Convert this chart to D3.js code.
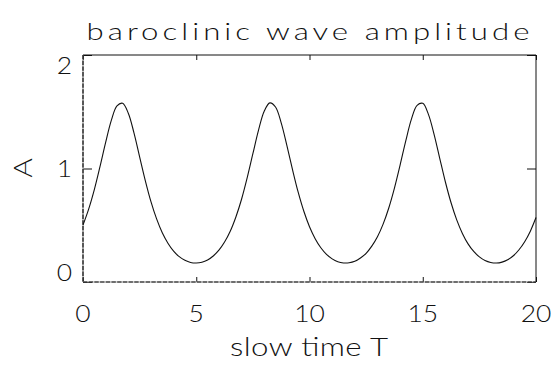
<!DOCTYPE html>
<html>
<head>
<meta charset="utf-8">
<script src="https://cdn.jsdelivr.net/npm/d3@7"></script>
<style>
  body { margin: 0; background: #fff; }
  text { font-family: Lato, "DejaVu Sans", sans-serif; font-weight: 300; fill: #111; }
</style>
</head>
<body>
<script>
// Slow time T (x samples)
const slowTime = [
  0, 0.25, 0.5, 0.75, 1, 1.25, 1.5, 1.75, 2, 2.25, 2.5, 2.75, 3, 3.25, 3.5, 3.75,
  4, 4.25, 4.5, 4.75, 5, 5.25, 5.5, 5.75, 6, 6.25, 6.5, 6.75, 7, 7.25, 7.5, 7.75,
  8, 8.25, 8.5, 8.75, 9, 9.25, 9.5, 9.75, 10, 10.25, 10.5, 10.75, 11, 11.25, 11.5, 11.75,
  12, 12.25, 12.5, 12.75, 13, 13.25, 13.5, 13.75, 14, 14.25, 14.5, 14.75, 15, 15.25, 15.5, 15.75,
  16, 16.25, 16.5, 16.75, 17, 17.25, 17.5, 17.75, 18, 18.25, 18.5, 18.75, 19, 19.25, 19.5, 19.75, 20
];

// Baroclinic wave amplitude A at each sample
const amplitude = [
  0.502, 0.642, 0.814, 1.016, 1.230, 1.424, 1.552, 1.575, 1.487, 1.314, 1.103, 0.894, 0.708, 0.556, 0.434, 0.342,
  0.272, 0.223, 0.191, 0.172, 0.167, 0.174, 0.194, 0.229, 0.280, 0.352, 0.447, 0.573, 0.729, 0.919, 1.130, 1.338,
  1.504, 1.578, 1.542, 1.402, 1.204, 0.990, 0.791, 0.623, 0.487, 0.382, 0.302, 0.244, 0.204, 0.179, 0.168, 0.169,
  0.182, 0.211, 0.253, 0.316, 0.399, 0.510, 0.652, 0.827, 1.030, 1.243, 1.435, 1.556, 1.574, 1.477, 1.301, 1.090,
  0.881, 0.698, 0.547, 0.428, 0.336, 0.269, 0.221, 0.189, 0.172, 0.167, 0.175, 0.196, 0.231, 0.284, 0.355, 0.448, 0.568
];

const xTicks = [0, 5, 10, 15, 20];
const yTicks = [0, 1, 2];
const chartTitle = "baroclinic wave amplitude";
const xTitle = "slow time T";
const yTitle = "A";

const W = 558, H = 365;
const svg = d3.select("body").append("svg").attr("width", W).attr("height", H);

const x = d3.scaleLinear().domain([0, 20]).range([83, 536]);
const y = d3.scaleLinear().domain([0, 2]).range([282, 55]);

// Tick marks point into the plot box on all four sides
function styleAxis(g) {
  g.selectAll(".tick line").attr("stroke", "#111").attr("stroke-width", 1);
  g.select(".domain").remove();
}
svg.append("g").attr("transform", `translate(0,${y(0)})`)
  .call(d3.axisBottom(x).tickValues(xTicks).tickSize(-5).tickFormat(""))
  .call(styleAxis);
svg.append("g").attr("transform", `translate(0,${y(2)})`)
  .call(d3.axisTop(x).tickValues(xTicks).tickSize(-5).tickFormat(""))
  .call(styleAxis);
svg.append("g").attr("transform", `translate(${x(0)},0)`)
  .call(d3.axisLeft(y).tickValues(yTicks).tickSize(-9).tickFormat(""))
  .call(styleAxis);
svg.append("g").attr("transform", `translate(${x(20)},0)`)
  .call(d3.axisRight(y).tickValues(yTicks).tickSize(-9).tickFormat(""))
  .call(styleAxis);

// Plot box: top/right solid, left/bottom drawn with a broken stroke
const x0 = x(0), x1 = x(20), y0 = y(0), y1 = y(2);
svg.append("line").attr("x1", x0).attr("x2", x1).attr("y1", y1).attr("y2", y1)
  .attr("stroke", "#111").attr("stroke-width", 1);
svg.append("line").attr("x1", x1).attr("x2", x1).attr("y1", y1).attr("y2", y0)
  .attr("stroke", "#111").attr("stroke-width", 1);
[[x0, y0, x1, y0], [x0, y1, x0, y0]].forEach(([a, b, c, d]) => {
  svg.append("line").attr("x1", a).attr("y1", b).attr("x2", c).attr("y2", d)
    .attr("stroke", "#999").attr("stroke-width", 1.2);
  svg.append("line").attr("x1", a).attr("y1", b).attr("x2", c).attr("y2", d)
    .attr("stroke", "#111").attr("stroke-width", 1.2).attr("stroke-dasharray", "4.3,1.4");
});

// Amplitude curve
const line = d3.line()
  .x((d, i) => x(slowTime[i]))
  .y(d => y(d))
  .curve(d3.curveCatmullRom.alpha(0.5));
svg.append("path").datum(amplitude)
  .attr("d", line)
  .attr("fill", "none")
  .attr("stroke", "#111")
  .attr("stroke-width", 1.1);

// Tick labels (horizontally widened glyphs)
svg.selectAll(".xl").data(xTicks).join("text")
  .attr("transform", d => `translate(${x(d)},313) scale(1.15,1)`)
  .attr("text-anchor", "middle").attr("dominant-baseline", "central")
  .attr("font-size", 23).text(d => d);
svg.selectAll(".yl").data(yTicks).join("text")
  .attr("transform", d => `translate(72,${Math.min(Math.max(y(d), 65), 272)}) scale(1.15,1)`)
  .attr("text-anchor", "end").attr("dominant-baseline", "central")
  .attr("font-size", 23).text(d => d);

// Titles
svg.append("text")
  .attr("transform", "translate(308,39.5) scale(1.3,1)")
  .attr("text-anchor", "middle").attr("font-size", 24)
  .attr("textLength", 443 / 1.3).attr("lengthAdjust", "spacing")
  .text(chartTitle);
svg.append("text")
  .attr("transform", "translate(309,356) scale(1.25,1)")
  .attr("text-anchor", "middle").attr("font-size", 25)
  .attr("textLength", 158 / 1.25).attr("lengthAdjust", "spacing")
  .text(xTitle);
svg.append("text")
  .attr("transform", "translate(32,168) rotate(-90) scale(1.15,1)")
  .attr("text-anchor", "middle").attr("font-size", 26)
  .text(yTitle);
</script>
</body>
</html>
